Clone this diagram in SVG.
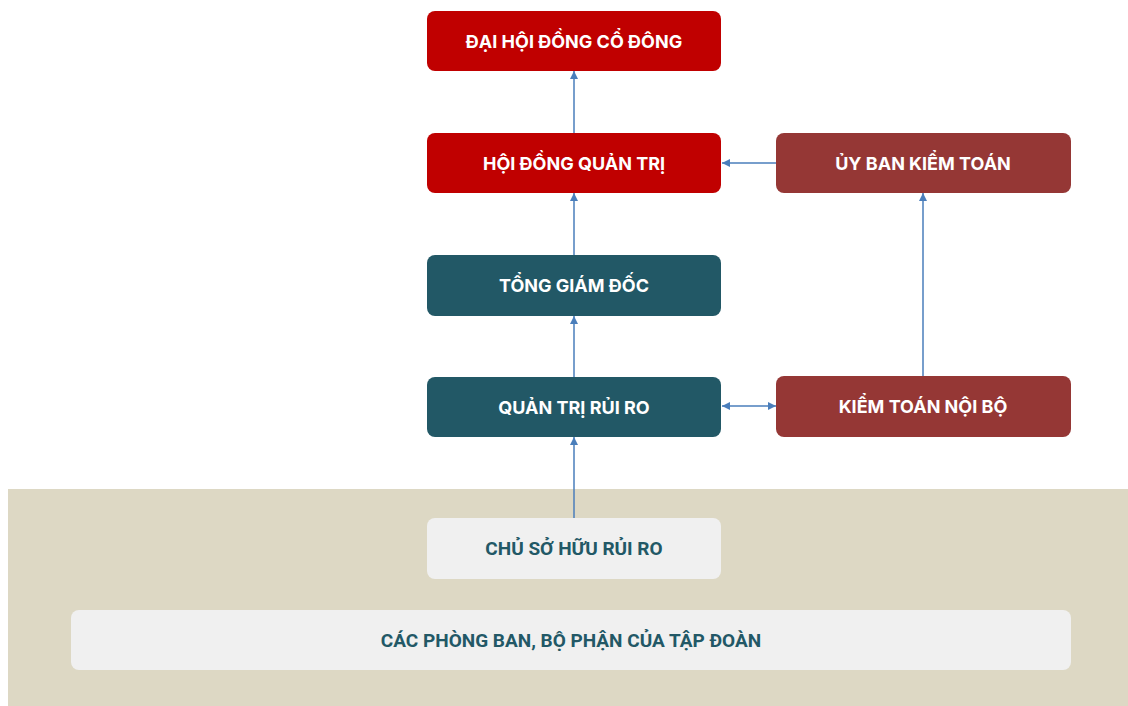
<svg xmlns="http://www.w3.org/2000/svg" width="1128" height="706" viewBox="0 0 1128 706">
<defs>
<marker id="ah" viewBox="0 0 10 10" refX="10" refY="5" markerWidth="8" markerHeight="8" markerUnits="userSpaceOnUse" orient="auto-start-reverse">
<path d="M0,0 L10,5 L0,10 z" fill="#4A7EBB"/>
</marker>
<style>
.red{fill:#C00000}
.teal{fill:#225866}
.brown{fill:#953735}
.gray{fill:#F0F0F0}
.t{font-family:Inter,"Open Sans","Liberation Sans",sans-serif;font-weight:700;font-size:18px;fill:#FFFFFF;text-anchor:middle;dominant-baseline:central}
.g{font-family:Roboto,"Liberation Sans",sans-serif;font-weight:700;font-size:19px;fill:#225866;text-anchor:middle;dominant-baseline:central}
.c{stroke:#4A7EBB;stroke-width:1.5;fill:none}
</style>
</defs>
<rect x="8" y="489" width="1120" height="217" fill="#DDD8C4"/>
<g id="n-dhdcd"><rect class="red" x="427" y="11" width="294" height="60" rx="8"/><text class="t" x="574" y="41">ĐẠI HỘI ĐỒNG CỔ ĐÔNG</text></g>
<g id="n-hdqt"><rect class="red" x="427" y="133" width="294" height="60" rx="8"/><text class="t" x="574" y="163">HỘI ĐỒNG QUẢN TRỊ</text></g>
<g id="n-tgd"><rect class="teal" x="427" y="255" width="294" height="61" rx="8"/><text class="t" x="574" y="285">TỔNG GIÁM ĐỐC</text></g>
<g id="n-qtrr"><rect class="teal" x="427" y="377" width="294" height="60" rx="8"/><text class="t" x="574" y="407">QUẢN TRỊ RỦI RO</text></g>
<g id="n-ubkt"><rect class="brown" x="776" y="133" width="295" height="60" rx="8"/><text class="t" x="923" y="163">ỦY BAN KIỂM TOÁN</text></g>
<g id="n-ktnb"><rect class="brown" x="776" y="376" width="295" height="61" rx="8"/><text class="t" x="923" y="406">KIỂM TOÁN NỘI BỘ</text></g>
<g id="n-csh"><rect class="gray" x="427" y="518" width="294" height="61" rx="8"/><text class="g" x="574" y="548">CHỦ SỞ HỮU RỦI RO</text></g>
<g id="n-cpb"><rect class="gray" x="71" y="610" width="1000" height="60" rx="8"/><text class="g" x="571" y="640">CÁC PHÒNG BAN, BỘ PHẬN CỦA TẬP ĐOÀN</text></g>
<g id="connectors">
<line class="c" x1="574" y1="133" x2="574" y2="71" marker-end="url(#ah)"/>
<line class="c" x1="574" y1="255" x2="574" y2="193" marker-end="url(#ah)"/>
<line class="c" x1="574" y1="377" x2="574" y2="316" marker-end="url(#ah)"/>
<line class="c" x1="574" y1="518" x2="574" y2="437" marker-end="url(#ah)"/>
<line class="c" x1="776" y1="163" x2="722" y2="163" marker-end="url(#ah)"/>
<line class="c" x1="923" y1="376" x2="923" y2="193" marker-end="url(#ah)"/>
<line class="c" x1="722" y1="406" x2="776" y2="406" marker-start="url(#ah)" marker-end="url(#ah)"/>
</g>
</svg>
